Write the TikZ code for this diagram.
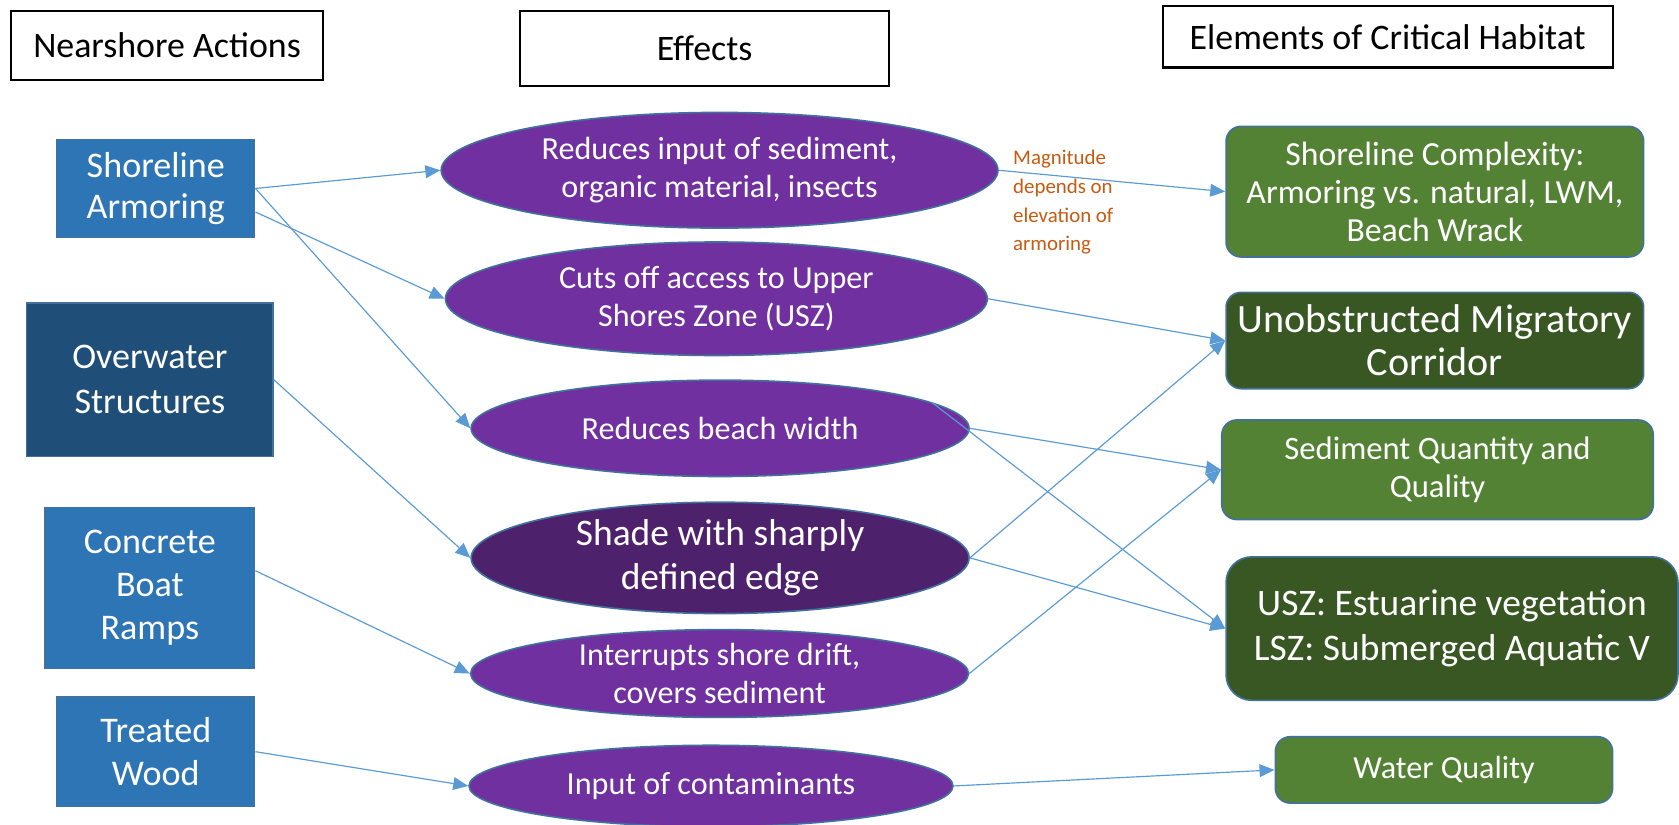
\documentclass[tikz,border=0pt]{standalone}
\usepackage{fontspec}
\setmainfont{Carlito}
\usetikzlibrary{shapes.geometric,arrows.meta}
\definecolor{actblue}{HTML}{2E75B6}
\definecolor{actdark}{HTML}{1F4E79}
\definecolor{outl}{HTML}{41719C}
\definecolor{purp}{HTML}{7030A0}
\definecolor{purpdark}{HTML}{4E216D}
\definecolor{grn}{HTML}{548235}
\definecolor{grndark}{HTML}{385723}
\definecolor{orng}{HTML}{C55A11}
\definecolor{arr}{HTML}{5B9BD5}
\begin{document}
\begin{tikzpicture}[x=1pt,y=-1pt,
  hdr/.style={draw=black, line width=2pt, fill=white, inner sep=0pt, font=\fontsize{33.5}{40}\selectfont},
  act/.style={fill=actblue, draw=outl, line width=1.2pt, text=white, align=center, inner sep=0pt, font=\fontsize{33.7}{40}\selectfont},
  eff/.style={ellipse, fill=purp, draw=outl, line width=1.5pt, text=white, align=center, inner sep=-16pt, font=\fontsize{30}{36}\selectfont},
  hab/.style={rounded corners=14pt, fill=grn, draw=outl, line width=1.5pt, text=white, align=center, inner sep=0pt, font=\fontsize{30.5}{36}\selectfont},
  conn/.style={draw=arr, line width=1.1pt, -{Triangle[length=14pt,width=12pt]}},
]
\useasboundingbox (0,0) rectangle (1568,770);
% headers
\node[hdr, minimum width=292, minimum height=65] (h1) at (156,42.5) {Nearshore Actions};
\node[hdr, minimum width=344, minimum height=70] (h2) at (658,45) {Effects};
\node[hdr, minimum width=420, minimum height=57] (h3) at (1296,34.5) {Elements of Critical Habitat};
% actions
\node[act, minimum width=185, minimum height=92, font=\fontsize{33.7}{39}\selectfont] (a1) at (145.5,176) {Shoreline\\Armoring};
\node[act, fill=actdark, minimum width=230, minimum height=143, font=\fontsize{33.7}{42}\selectfont] (a2) at (140,354.5) {Overwater\\Structures};
\node[act, minimum width=196, minimum height=150] (a3) at (140,549) {Concrete\\Boat\\Ramps};
\node[act, minimum width=185, minimum height=102] (a4) at (145.5,702) {Treated\\Wood};
% effects
\node[eff, minimum width=520, minimum height=108] (e1) at (672,159) {Reduces input of sediment,\\organic material, insects};
\node[eff, minimum width=506, minimum height=106, font=\fontsize{30}{35}\selectfont] (e2) at (669,279) {Cuts off access to Upper\\Shores Zone (USZ)};
\node[eff, minimum width=465, minimum height=90] (e3) at (672.5,400) {Reduces beach width};
\node[eff, fill=purpdark, minimum width=465, minimum height=104, font=\fontsize{35}{41}\selectfont] (e4) at (672.5,521) {Shade with sharply\\defined edge};
\node[eff, minimum width=465, minimum height=82] (e5) at (672,629) {Interrupts shore drift,\\covers sediment};
\node[eff, minimum width=452, minimum height=76] (e6) at (664,734) {Input of contaminants};
% habitat elements
\node[hab, minimum width=390, minimum height=122, font=\fontsize{31.5}{35.7}\selectfont] (r1) at (1340,179) {Shoreline Complexity:\\Armoring vs. natural, LWM,\\Beach Wrack};
\node[hab, fill=grndark, minimum width=390, minimum height=90, font=\fontsize{37.5}{40.5}\selectfont] (r2) at (1340,318) {Unobstructed Migratory\\Corridor};
\node[hab, minimum width=403, minimum height=93] (r3) at (1342.5,438.7) {Sediment Quantity and\\Quality};
\node[hab, fill=grndark, rounded corners=24pt, minimum width=422, minimum height=134, font=\fontsize{35}{42}\selectfont] (r4) at (1356,587) {USZ: Estuarine vegetation\\LSZ: Submerged Aquatic V};
\node[hab, minimum width=315, minimum height=62, font=\fontsize{30}{33}\selectfont] (r5) at (1348.5,719) {Water Quality};
% annotation
\node[anchor=north west, text=orng, align=left, inner sep=0pt, font=\fontsize{19.5}{26.8}\selectfont] (mag) at (946,140) {Magnitude\\depends on\\elevation of\\armoring};
% connectors
\draw[conn] (a1.east) -- (e1.west);
\draw[conn] ([yshift=-22pt]a1.east) -- (e2.west);
\draw[conn] (a1.east) -- (e3.west);
\draw[conn] (a2.east) -- (e4.west);
\draw[conn] ([yshift=16pt]a3.east) -- (e5.west);
\draw[conn] (a4.east) -- (e6.west);
\draw[conn] (e1.east) -- (r1.west);
\draw[conn] (e2.east) -- (r2.west);
\draw[conn] (e4.east) -- (r2.west);
\draw[conn] (e3.east) -- (r3.west);
\draw[conn] (e5.east) -- (r3.west);
\draw[conn] (e4.east) -- (r4.west);
\draw[conn] (e3.7) -- (r4.west);
\draw[conn] (e6.east) -- (r5.west);
\end{tikzpicture}
\end{document}
